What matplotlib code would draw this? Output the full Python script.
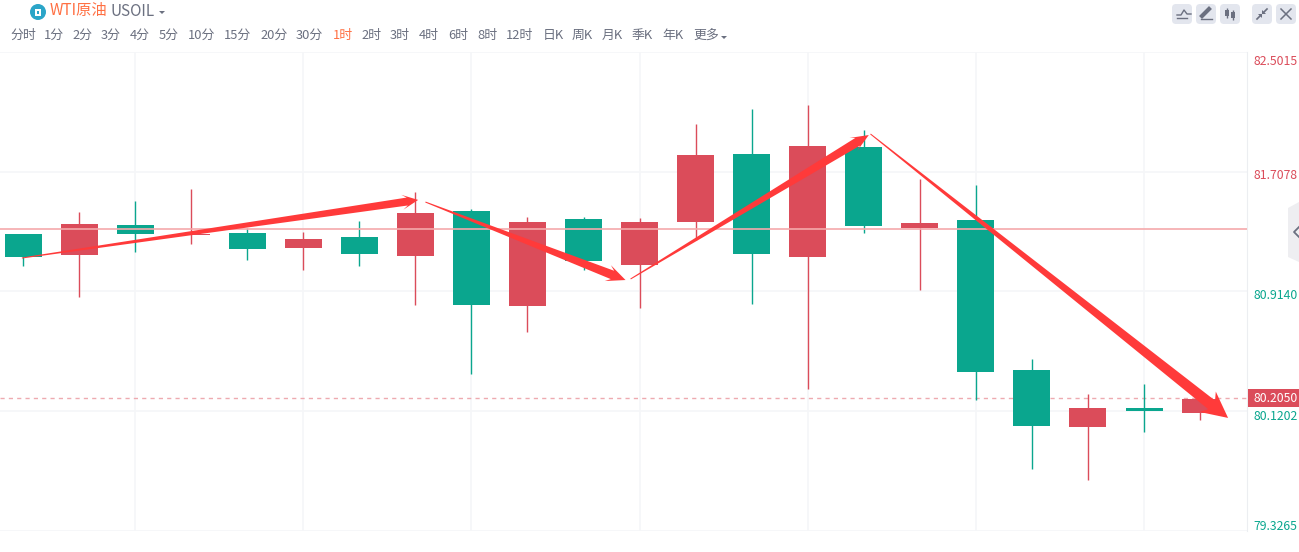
import matplotlib
matplotlib.use('Agg')
import matplotlib.pyplot as plt
from matplotlib.patches import Polygon, Rectangle, Circle, FancyBboxPatch
from matplotlib.transforms import IdentityTransform, ScaledTranslation
import numpy as np

plt.rcParams['font.family'] = ['Noto Sans CJK SC', 'DejaVu Sans']

# candles, oldest first
opens  = [81.295, 81.156, 81.355, 81.289, 81.302, 81.202, 81.275, 81.149, 81.448, 80.818, 81.395,
          81.090, 81.375, 81.825, 81.143, 81.872, 81.335, 81.388, 80.394, 80.016, 80.142, 80.109]
closes = [81.143, 81.362, 81.295, 81.295, 81.196, 81.262, 81.163, 81.434, 80.825, 81.375, 81.116,
          81.375, 81.819, 81.163, 81.878, 81.348, 81.368, 80.381, 80.023, 80.142, 80.122, 80.202]
highs  = [81.295, 81.441, 81.514, 81.594, 81.335, 81.308, 81.381, 81.574, 81.461, 81.408, 81.408,
          81.401, 82.024, 82.124, 82.150, 81.985, 81.660, 81.620, 80.467, 80.235, 80.301, 80.202]
lows   = [81.083, 80.878, 81.176, 81.229, 81.123, 81.057, 81.083, 80.825, 80.367, 80.646, 81.057,
          80.805, 81.255, 80.831, 80.268, 81.302, 80.924, 80.195, 79.738, 79.665, 79.983, 80.062]

price_ticks = [82.5015, 81.7078, 80.9140, 80.1202, 79.3265]
price_labels = ['82.5015', '81.7078', '80.9140', '80.1202', '79.3265']
last_price = 80.2050
ref_price = 81.328

# hand drawn arrows: candle index and price at start / tip
arrow_x0 = [-0.02, 7.18, 10.84, 15.12]
arrow_y0 = [81.136, 81.507, 80.997, 81.958]
arrow_x1 = [7.05, 10.75, 15.09, 21.5]
arrow_y1 = [81.521, 80.990, 81.951, 80.076]

periods = ['分时', '1分', '2分', '3分', '4分', '5分', '10分', '15分', '20分', '30分', '1时', '2时',
           '3时', '4时', '6时', '8时', '12时', '日K', '周K', '月K', '季K', '年K', '更多']
period_x = [10, 44, 72, 101, 130, 159, 188, 224, 260, 296, 333, 361, 390, 419, 448, 477, 506,
            543, 572, 602, 632, 662, 693]

GREEN = '#0aa68e'
RED = '#db4c5a'
ORANGE = '#ff7043'
GREY = '#6b7080'
GRID = '#f5f6f8'
STEP = 56.05

W, H = 1299, 552
fig = plt.figure(figsize=(W / 100, H / 100), dpi=100, facecolor='white')

# chart area in pixels: x 0-1247, y 52-531
ax = fig.add_axes([0, 1 - 531 / H, 1247 / W, 479 / H])
ax.set_xlim(-23 / STEP, (1247 - 23) / STEP)
ax.set_ylim(price_ticks[-1], price_ticks[0])

x = np.arange(len(opens))
colors = [RED if c >= o else GREEN for o, c in zip(opens, closes)]
ax.vlines(x, lows, highs, colors=colors, linewidth=1, zorder=2)
bottoms = np.minimum(opens, closes)
heights = np.abs(np.array(closes) - np.array(opens))
ax.bar(x, heights, bottom=bottoms, width=37 / STEP, color=colors, linewidth=0, zorder=3)

ax.axhline(ref_price, color='#f5a9ab', linewidth=1.2, zorder=4)
ax.axhline(last_price, color='#eeaab0', linewidth=1, dashes=(3, 3), zorder=1)

ax.set_xticks(np.arange(2, len(opens), 3))
ax.set_xticklabels([])
ax.set_yticks(price_ticks)
ax.set_yticklabels(price_labels)
ax.yaxis.tick_right()
ax.grid(True, color=GRID, linewidth=1.2, zorder=0)
ax.set_axisbelow(True)
ax.tick_params(length=0, labelsize=8.8, pad=4.5)
for side in ['left', 'top', 'bottom']:
    ax.spines[side].set_visible(False)
ax.spines['right'].set_color('#eceef1')

label_shift = [-8, -2, -3, -4, 6]
for lab, p, s in zip(ax.get_yticklabels(), price_ticks, label_shift):
    lab.set_color(RED if p > 81 else GREEN)
    lab.set_transform(lab.get_transform() + ScaledTranslation(0, s / 100, fig.dpi_scale_trans))

# price tag, on top of everything in the right gutter
tag_y = ax.transData.transform((0, last_price))[1]
overlay = fig.add_axes([0, 0, 1, 1], facecolor='none')
overlay.set_xlim(0, W)
overlay.set_ylim(H, 0)
overlay.axis('off')
tag_py = H - tag_y
overlay.add_patch(Rectangle((1248, tag_py - 9), 51, 18, color=RED, linewidth=0))
overlay.text(1254, tag_py, '80.2050', color='white', fontsize=8.8, fontweight='medium', va='center')

# arrows
head_len = [16, 19, 18, 26]
head_w = [15, 17, 15, 26]
shaft_w = [8, 9, 9, 11]
for x0, y0, x1, y1, hl, hw, sw in zip(arrow_x0, arrow_y0, arrow_x1, arrow_y1, head_len, head_w, shaft_w):
    a = ax.transData.transform((x0, y0))
    b = ax.transData.transform((x1, y1))
    d = (b - a) / np.hypot(*(b - a))
    n = np.array([-d[1], d[0]])
    barb = b - d * hl
    join = b - d * (hl - 5)
    pts = [a + n * 0.5, join + n * sw / 2, barb + n * hw / 2, b,
           barb - n * hw / 2, join - n * sw / 2, a - n * 0.5]
    overlay.add_patch(Polygon(pts, closed=True, color='#ff3a3a', linewidth=0,
                              transform=IdentityTransform(), zorder=6))

# toolbar: title
overlay.add_patch(Circle((38, 12), 8, color='#2ba5c8', linewidth=0))
overlay.add_patch(Rectangle((35, 9), 6, 6.5, color='white', linewidth=0))
overlay.add_patch(Rectangle((37, 11), 2, 2.5, color='#2ba5c8', linewidth=0))
overlay.text(50, 11, 'WTI原油', color=ORANGE, fontsize=11, va='center')
overlay.text(111, 11, 'USOIL', color=GREY, fontsize=11, va='center')
overlay.add_patch(Polygon([(159, 11), (165, 11), (162, 14)], color=GREY, linewidth=0))

# toolbar: periods
for name, px in zip(periods, period_x):
    overlay.text(px, 35, name, color=ORANGE if name == '1时' else GREY, fontsize=9.3, va='center')
overlay.add_patch(Polygon([(721, 36), (727, 36), (724, 39)], color=GREY, linewidth=0))

# toolbar: buttons
for bx in [1172, 1196, 1220, 1252, 1276]:
    overlay.add_patch(FancyBboxPatch((bx + 2, 6), 16, 16, boxstyle='round,pad=2,rounding_size=4',
                                     color='#e3e6ee', linewidth=0))
overlay.plot([1177, 1181, 1184, 1187, 1191], [15, 15, 10, 14, 14], color=GREY, lw=1)
overlay.plot([1177, 1187], [18, 18], color=GREY, lw=1)
overlay.plot([1202, 1209], [16, 9], color=GREY, lw=3)
overlay.plot([1201, 1212], [19, 19], color=GREY, lw=1)
overlay.vlines([1227, 1233], [8, 10], [18, 20], color=GREY, lw=1)
overlay.add_patch(Rectangle((1225, 10), 4, 6, color=GREY, linewidth=0))
overlay.add_patch(Rectangle((1231, 12), 4, 6, color=GREY, linewidth=0))
overlay.plot([1257, 1261], [19, 15], color=GREY, lw=1.2)
overlay.plot([1263, 1267], [13, 9], color=GREY, lw=1.2)
overlay.add_patch(Polygon([(1258, 14), (1262, 14), (1262, 18)], color=GREY, linewidth=0))
overlay.add_patch(Polygon([(1262, 10), (1262, 14), (1266, 14)], color=GREY, linewidth=0))
overlay.plot([1281, 1291], [9, 19], color=GREY, lw=1.1)
overlay.plot([1291, 1281], [9, 19], color=GREY, lw=1.1)

# side handle
overlay.add_patch(Polygon([(1299, 202), (1288, 208), (1288, 257), (1299, 262)],
                          color='#eeeef1', linewidth=0))
overlay.plot([1299, 1294, 1299], [227, 232, 237], color=GREY, lw=1.3)

fig.savefig('out.png', dpi=100)
